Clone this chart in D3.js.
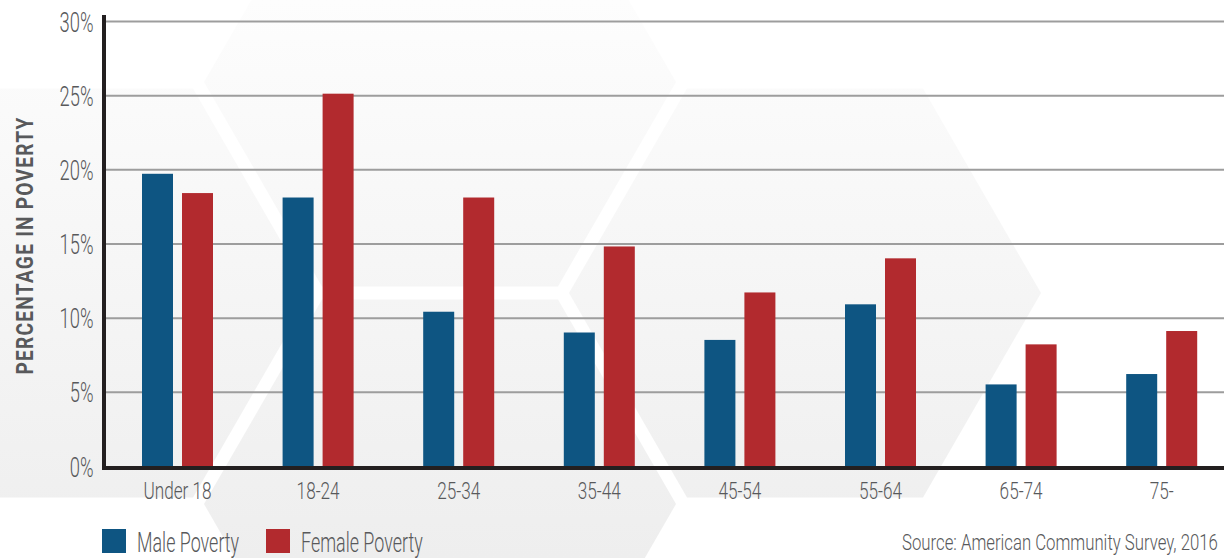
<!DOCTYPE html>
<html>
<head>
<meta charset="utf-8">
<script src="https://cdn.jsdelivr.net/npm/d3@7"></script>
<style>
  html, body { margin: 0; padding: 0; background: #fff; overflow: hidden; }
  svg { display: block; }
  text { font-family: Roboto, "Liberation Sans", sans-serif; }
</style>
</head>
<body>
<svg id="chart" width="1224" height="558"></svg>
<script>
const categories = ["Under 18", "18-24", "25-34", "35-44", "45-54", "55-64", "65-74", "75-"];
const maleValues = [19.7, 18.1, 10.4, 9.0, 8.5, 10.9, 5.5, 6.2];
const femaleValues = [18.4, 25.1, 18.1, 14.8, 11.7, 14.0, 8.2, 9.1];
const yTicks = [0, 5, 10, 15, 20, 25, 30];
const seriesNames = ["Male Poverty", "Female Poverty"];
const seriesKeys = ["male", "female"];
const yTitle = "PERCENTAGE IN POVERTY";
const sourceText = "Source: American Community Survey, 2016";

const colors = { male: "#0e5582", female: "#b22a2e" };
const textColor = "#58595b";
const FONT = "Roboto, 'Liberation Sans', sans-serif";

const svg = d3.select("#chart");
const W = 1224, H = 558;

// horizontally condense text to mimic a condensed typeface
function condense(sel, factor) {
  sel.each(function () {
    const len = this.getComputedTextLength();
    d3.select(this).attr("textLength", len * factor).attr("lengthAdjust", "spacingAndGlyphs");
  });
}

// background honeycomb decoration
const defs = svg.append("defs");
const grad = defs.append("linearGradient").attr("id", "hexGrad")
  .attr("gradientUnits", "userSpaceOnUse").attr("x1", 0).attr("y1", 0).attr("x2", 0).attr("y2", H);
grad.append("stop").attr("offset", "0%").attr("stop-color", "#fdfdfd");
grad.append("stop").attr("offset", "100%").attr("stop-color", "#eeeeee");

const hexCenters = [[440, 82], [805, 293], [75, 293], [440, 504]];
const hexR = 236;
const hexPath = ([cx, cy]) => {
  const pts = d3.range(6).map(i => {
    const a = Math.PI / 3 * i;
    return [cx + hexR * Math.cos(a), cy + hexR * Math.sin(a)];
  });
  return "M" + pts.map(p => p.join(",")).join("L") + "Z";
};
svg.append("g").selectAll("path").data(hexCenters).join("path")
  .attr("d", hexPath).attr("fill", "url(#hexGrad)");

// scales
const x0 = d3.scaleBand().domain(categories).range([107.2, 1232]).paddingInner(0.495).paddingOuter(0.2475);
const x1 = d3.scaleBand().domain(seriesKeys).range([0, x0.bandwidth()]).paddingInner(0.225).paddingOuter(0);
const y = d3.scaleLinear().domain([0, 30]).range([466, 21]);

// grid lines
svg.append("g")
  .attr("transform", "translate(104,0)")
  .call(d3.axisLeft(y).tickValues(yTicks.filter(t => t > 0)).tickSize(-(W - 104)).tickFormat(""))
  .call(g => g.select(".domain").remove())
  .call(g => g.selectAll("line").attr("stroke", "#9d9d9d").attr("stroke-width", 2));

// y tick labels
svg.append("g")
  .attr("transform", "translate(93.5,0)")
  .call(d3.axisLeft(y).tickValues(yTicks).tickSize(0).tickPadding(0).tickFormat(d => d + "%"))
  .call(g => g.select(".domain").remove())
  .call(g => g.selectAll("text")
    .attr("fill", textColor).attr("font-size", 27).attr("font-weight", 300).attr("dy", "0.37em")
    .style("font-family", FONT)
    .call(condense, 0.68));

// bars
const data = categories.map((c, i) => ({ cat: c, male: maleValues[i], female: femaleValues[i] }));
svg.append("g").selectAll("g").data(data).join("g")
  .attr("transform", d => `translate(${x0(d.cat)},0)`)
  .selectAll("rect")
  .data(d => seriesKeys.map(k => ({ key: k, value: d[k] })))
  .join("rect")
  .attr("x", d => x1(d.key))
  .attr("width", x1.bandwidth())
  .attr("y", d => y(d.value))
  .attr("height", d => y(0) - y(d.value))
  .attr("fill", d => colors[d.key]);

// axis lines
svg.append("line").attr("x1", 104).attr("x2", 104).attr("y1", 15).attr("y2", 470)
  .attr("stroke", "#231f20").attr("stroke-width", 4);
svg.append("line").attr("x1", 102).attr("x2", W).attr("y1", 468).attr("y2", 468)
  .attr("stroke", "#231f20").attr("stroke-width", 4);

// x labels
svg.append("g")
  .attr("transform", "translate(0,499)")
  .call(d3.axisBottom(x0).tickSize(0).tickPadding(0))
  .call(g => g.select(".domain").remove())
  .call(g => g.selectAll("text")
    .attr("fill", textColor).attr("font-size", 24.5).attr("font-weight", 300).attr("dy", 0).attr("y", 0)
    .style("font-family", FONT)
    .call(condense, 0.70));

// y title
svg.append("text")
  .attr("transform", "translate(33,245.5) rotate(-90)")
  .attr("text-anchor", "middle")
  .attr("fill", textColor)
  .attr("font-size", 24)
  .attr("font-weight", "bold")
  .attr("letter-spacing", 1.5)
  .text(yTitle)
  .call(condense, 0.80);

// legend
const legendX = [102, 266];
const lg = svg.append("g").selectAll("g").data(seriesKeys).join("g")
  .attr("transform", (d, i) => `translate(${legendX[i]},529)`);
lg.append("rect").attr("width", 24).attr("height", 24).attr("fill", d => colors[d]);
lg.append("text").attr("x", 35).attr("y", 23)
  .attr("fill", textColor).attr("font-size", 28).attr("font-weight", 300)
  .text((d, i) => seriesNames[i])
  .call(condense, 0.64);

// source: condensed with a scale transform so its box stays inside the picture
const srcX = 902;
const src = svg.append("text").attr("x", 0).attr("y", 0)
  .attr("fill", textColor).attr("font-size", 22).attr("font-weight", 300)
  .text(sourceText);
const srcLen = src.node().getComputedTextLength();
const srcScale = Math.min(0.78, (W - srcX - 6) / srcLen);
src.attr("transform", `translate(${srcX},550) scale(${srcScale},1)`);
</script>
</body>
</html>
